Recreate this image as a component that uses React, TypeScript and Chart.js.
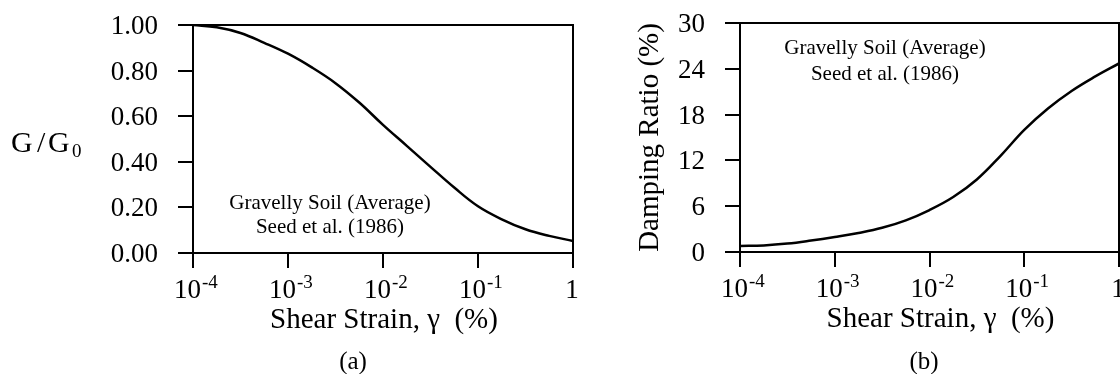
import React, { useEffect, useRef } from "react";
import { Chart, registerables } from "chart.js";

Chart.register(...registerables);

// ---- data (quarter-decade strain steps) ----
const strainPercent = [
  1e-4, 1.78e-4, 3.16e-4, 5.62e-4, 1e-3, 1.78e-3, 3.16e-3, 5.62e-3, 1e-2, 1.78e-2, 3.16e-2, 5.62e-2, 0.1, 0.178,
  0.316, 0.562, 1,
];
const modulusRatio = [
  1.0, 0.99, 0.965, 0.922, 0.874, 0.814, 0.745, 0.66, 0.562, 0.47, 0.378, 0.287, 0.205, 0.148, 0.104, 0.075, 0.053,
];
const dampingRatio = [0.8, 0.86, 1.1, 1.5, 1.97, 2.5, 3.17, 4.15, 5.5, 7.2, 9.5, 12.6, 16.0, 18.8, 21.1, 23.0, 24.7];
const strainTickExponents = [-4, -3, -2, -1, 0];
const modulusTicks = [0, 0.2, 0.4, 0.6, 0.8, 1.0];
const dampingTicks = [0, 6, 12, 18, 24, 30];
const annotationLines = ["Gravelly Soil (Average)", "Seed et al. (1986)"];
const xAxisTitle = "Shear Strain, \u03b3  (%)";
const dampingTitle = "Damping Ratio (%)";

const SERIF = '"Liberation Serif", "Times New Roman", Times, serif';

type PanelOpts = {
  yTicks: number[];
  yFormat: (v: number) => string;
  yTitle: "ratio" | "damping";
  titleShift: number;
  annX: number;
  annY: number[];
  panelLabel: string;
  panelLabelX: number;
};

const panelPlugin = {
  id: "panelText",
  afterDraw(chart: any, _args: any, opts: PanelOpts) {
    const ctx = chart.ctx as CanvasRenderingContext2D;
    const area = chart.chartArea;
    const xs = chart.scales.x;
    const ys = chart.scales.y;
    ctx.save();
    ctx.strokeStyle = "#000";
    ctx.lineWidth = 2;
    ctx.strokeRect(area.left, area.top, area.right - area.left, area.bottom - area.top);
    ctx.fillStyle = "#000";

    // y tick labels
    ctx.font = `27px ${SERIF}`;
    ctx.textAlign = "right";
    ctx.textBaseline = "alphabetic";
    for (const v of opts.yTicks) {
      const y = ys.getPixelForValue(v);
      ctx.fillText(opts.yFormat(v), area.left - 35, y + 9);
    }

    // x tick labels (powers of ten)
    for (const e of strainTickExponents) {
      const x = xs.getPixelForValue(Math.pow(10, e));
      ctx.font = `27px ${SERIF}`;
      if (e === 0) {
        ctx.textAlign = "center";
        ctx.fillText("1", x - 1, area.bottom + 45);
      } else {
        ctx.textAlign = "left";
        const start = x - 19;
        ctx.fillText("10", start, area.bottom + 45);
        const w = ctx.measureText("10").width;
        ctx.font = `19px ${SERIF}`;
        ctx.fillText(String(e), start + w + 1, area.bottom + 35);
      }
    }

    // x axis title
    ctx.font = `29px ${SERIF}`;
    ctx.textAlign = "center";
    ctx.fillText(xAxisTitle, (area.left + area.right) / 2 + opts.titleShift, area.bottom + 75);

    // panel label
    ctx.font = `25px ${SERIF}`;
    ctx.fillText(opts.panelLabel, opts.panelLabelX, 369);

    // annotation
    ctx.font = `21px ${SERIF}`;
    ctx.textAlign = "center";
    annotationLines.forEach((line, i) => {
      ctx.fillText(line, area.left + opts.annX, opts.annY[i]);
    });

    // y axis title
    if (opts.yTitle === "ratio") {
      ctx.textAlign = "left";
      ctx.font = `30px ${SERIF}`;
      ctx.fillText("G", 11, 152);
      ctx.fillText("/", 37, 152);
      ctx.fillText("G", 48, 152);
      ctx.font = `19px ${SERIF}`;
      ctx.fillText("0", 72, 157);
    } else {
      ctx.save();
      ctx.translate(area.left - 82, (area.top + area.bottom) / 2);
      ctx.rotate(-Math.PI / 2);
      ctx.textAlign = "center";
      ctx.font = `29px ${SERIF}`;
      ctx.fillText(dampingTitle, 0, 0);
      ctx.restore();
    }
    ctx.restore();
  },
};

function makeChart(
  canvas: HTMLCanvasElement,
  values: number[],
  yMax: number,
  padding: { left: number; right: number; top: number; bottom: number },
  yWidth: number,
  xHeight: number,
  opts: PanelOpts
) {
  const data = strainPercent.map((s, i) => ({ x: s, y: values[i] }));
  return new Chart(canvas, {
    type: "line",
    data: {
      datasets: [
        {
          data,
          borderColor: "#000",
          borderWidth: 2.5,
          pointRadius: 0,
          tension: 0.4,
          fill: false,
        },
      ],
    },
    options: {
      responsive: false,
      animation: false,
      events: [],
      layout: { padding },
      plugins: {
        legend: { display: false },
        tooltip: { enabled: false },
        title: { display: false },
        panelText: opts,
      } as any,
      scales: {
        x: {
          type: "logarithmic",
          min: 1e-4,
          max: 1,
          afterBuildTicks: (scale: any) => {
            scale.ticks = strainTickExponents.map((e) => ({ value: Math.pow(10, e) }));
          },
          afterFit: (scale: any) => {
            scale.height = xHeight;
          },
          ticks: { display: false },
          grid: {
            drawOnChartArea: false,
            drawTicks: true,
            tickLength: 15,
            color: "#000",
            lineWidth: 2,
          },
          border: { display: true, color: "#000", width: 2 },
        },
        y: {
          type: "linear",
          min: 0,
          max: yMax,
          afterBuildTicks: (scale: any) => {
            scale.ticks = opts.yTicks.map((v) => ({ value: v }));
          },
          afterFit: (scale: any) => {
            scale.width = yWidth;
          },
          ticks: { display: false },
          grid: {
            drawOnChartArea: false,
            drawTicks: true,
            tickLength: 15,
            color: "#000",
            lineWidth: 2,
          },
          border: { display: true, color: "#000", width: 2 },
        },
      },
    } as any,
    plugins: [panelPlugin],
  });
}

export default function App() {
  const refA = useRef<HTMLCanvasElement | null>(null);
  const refB = useRef<HTMLCanvasElement | null>(null);

  useEffect(() => {
    const a = makeChart(
      refA.current!,
      modulusRatio,
      1,
      { left: 0, right: 27, top: 25, bottom: 0 },
      193,
      121,
      {
        yTicks: modulusTicks,
        yFormat: (v) => v.toFixed(2),
        yTitle: "ratio",
        titleShift: 1,
        annX: 137,
        annY: [209, 233],
        panelLabel: "(a)",
        panelLabelX: 353,
      }
    );
    const b = makeChart(
      refB.current!,
      dampingRatio,
      30,
      { left: 0, right: 1, top: 23, bottom: 0 },
      140,
      122,
      {
        yTicks: dampingTicks,
        yFormat: (v) => String(v),
        yTitle: "damping",
        titleShift: 11,
        annX: 145,
        annY: [54, 80],
        panelLabel: "(b)",
        panelLabelX: 324,
      }
    );
    return () => {
      a.destroy();
      b.destroy();
    };
  }, []);

  return (
    <div
      style={{
        position: "absolute",
        left: 0,
        top: 0,
        width: 1120,
        height: 374,
        overflow: "hidden",
        background: "#fff",
      }}
    >
      <canvas
        ref={refA}
        width={600}
        height={374}
        style={{ position: "absolute", left: 0, top: 0, width: 600, height: 374 }}
      />
      <canvas
        ref={refB}
        width={520}
        height={374}
        style={{ position: "absolute", left: 600, top: 0, width: 520, height: 374 }}
      />
    </div>
  );
}
